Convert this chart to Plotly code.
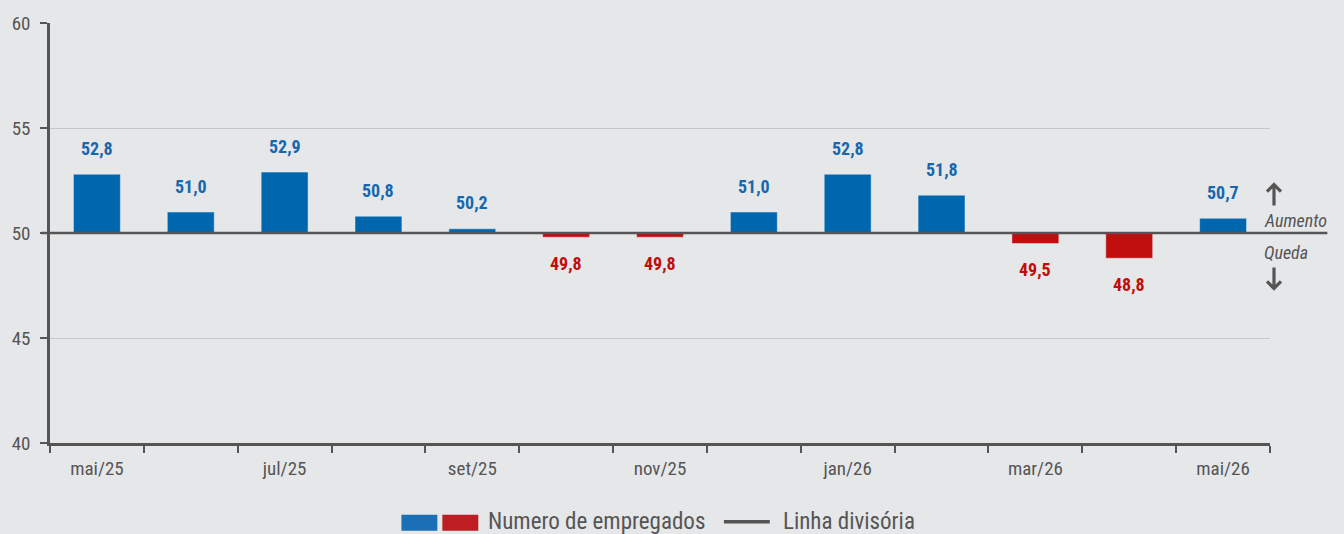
import plotly.graph_objects as go

months = ["mai/25", "jun/25", "jul/25", "ago/25", "set/25", "out/25", "nov/25",
          "dez/25", "jan/26", "fev/26", "mar/26", "abr/26", "mai/26"]
values = [52.8, 51.0, 52.9, 50.8, 50.2, 49.8, 49.8, 51.0, 52.8, 51.8, 49.5, 48.8, 50.7]
baseline = 50
y_ticks = [40, 45, 50, 55, 60]

BLUE = "#0066AD"
RED = "#C00D0D"
BLUE_TXT = "#1767AE"
RED_TXT = "#C00D0D"
GRAY = "#555555"
FONT = "Roboto Condensed, Roboto, sans-serif"

deltas = [v - baseline for v in values]
colors = [BLUE if v >= baseline else RED for v in values]
tcolors = [BLUE_TXT if v >= baseline else RED_TXT for v in values]
labels = [f"{v:.1f}".replace(".", ",") for v in values]

fig = go.Figure()
fig.add_trace(go.Bar(
    x=months, y=deltas, base=baseline, marker_color=colors, width=0.5,
    showlegend=False, hoverinfo="skip",
))
for m, v, lab, c in zip(months, values, labels, tcolors):
    fig.add_annotation(x=m, y=v, text=f"<b>{lab}</b>", showarrow=False,
                       yshift=26 if v >= baseline else -26, yanchor="middle",
                       font=dict(size=18, color=c, family=FONT))

fig.add_shape(type="line", xref="paper", yref="y", x0=-0.007, x1=1.047,
              y0=baseline, y1=baseline, line=dict(color="#555555", width=2.5))

def px_x(p):
    return (p - 48) / 1222
def px_y(p):
    return (443 - p) / 421

# manual legend
fig.add_shape(type="rect", xref="paper", yref="paper", x0=px_x(400), x1=px_x(436),
              y0=px_y(531), y1=px_y(515), fillcolor="#1A6FB5", line_width=0)
fig.add_shape(type="rect", xref="paper", yref="paper", x0=px_x(441), x1=px_x(477),
              y0=px_y(531), y1=px_y(515), fillcolor="#BE1E23", line_width=0)
fig.add_annotation(xref="paper", yref="paper", x=px_x(485), y=px_y(522),
                   text="Numero de empregados", showarrow=False, xanchor="left",
                   yanchor="middle", font=dict(size=23, color=GRAY, family=FONT))
fig.add_shape(type="line", xref="paper", yref="paper", x0=px_x(723), x1=px_x(769),
              y0=px_y(522), y1=px_y(522), line=dict(color="#555555", width=3.5))
fig.add_annotation(xref="paper", yref="paper", x=px_x(780), y=px_y(522),
                   text="Linha divisória", showarrow=False, xanchor="left",
                   yanchor="middle", font=dict(size=23, color=GRAY, family=FONT))

# Aumento / Queda
fig.add_annotation(xref="paper", yref="paper", x=px_x(1262), y=px_y(220),
                   text="<i>Aumento</i>", showarrow=False, xanchor="left",
                   yanchor="middle", font=dict(size=18, color=GRAY, family=FONT))
fig.add_annotation(xref="paper", yref="paper", x=px_x(1262), y=px_y(252),
                   text="<i>Queda</i>", showarrow=False, xanchor="left",
                   yanchor="middle", font=dict(size=18, color=GRAY, family=FONT))

def arrow_path(xc, tip, tail, head):
    x0, xl, xr = px_x(xc), px_x(xc - 7), px_x(xc + 7)
    return (f"M {x0},{px_y(tail)} L {x0},{px_y(tip)} "
            f"M {xl},{px_y(head)} L {x0},{px_y(tip)} L {xr},{px_y(head)}")

fig.add_shape(type="path", xref="paper", yref="paper",
              path=arrow_path(1274, 184, 205, 191), line=dict(color=GRAY, width=3.2))
fig.add_shape(type="path", xref="paper", yref="paper",
              path=arrow_path(1274, 288, 267, 281), line=dict(color=GRAY, width=3.2))

ticktext = [m if i % 2 == 0 else "" for i, m in enumerate(months)]
fig.update_xaxes(
    type="category", tickmode="array", tickvals=months, ticktext=ticktext,
    tickson="boundaries", ticks="outside", ticklen=7, tickwidth=2, tickcolor="#555555",
    showline=True, linecolor="#555555", linewidth=2.5, showgrid=False,
    tickfont=dict(size=19, color=GRAY, family=FONT), range=[-0.5, 12.5],
    ticklabelstandoff=6,
)
fig.update_yaxes(
    range=[40, 60], tickvals=y_ticks, ticks="outside", ticklen=7, tickwidth=2,
    tickcolor="#555555", showline=True, linecolor="#555555", linewidth=2.5,
    showgrid=True, gridcolor="#C6C7C9", gridwidth=1, zeroline=False,
    tickfont=dict(size=19, color=GRAY, family=FONT), ticklabelstandoff=6,
)
fig.update_layout(
    width=1344, height=534, margin=dict(l=48, r=74, t=22, b=91),
    paper_bgcolor="#E6E7E9", plot_bgcolor="#E6E7E9", showlegend=False,
    bargap=0.5, font=dict(family=FONT, color=GRAY), separators=",.",
)
fig.write_html("out.html", config={"displayModeBar": False},
               post_script="document.body.style.margin='0';document.body.style.overflow='hidden';")
